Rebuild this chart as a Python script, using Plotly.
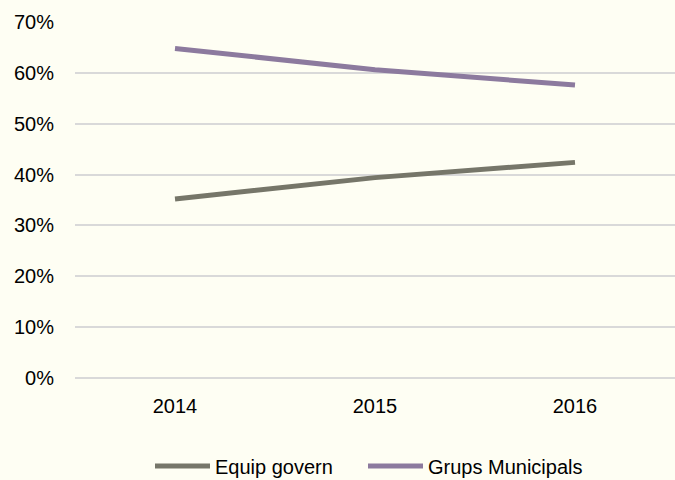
import plotly.graph_objects as go

years = ["2014", "2015", "2016"]
equip_govern = [0.352, 0.394, 0.424]
grups_municipals = [0.648, 0.606, 0.576]
y_ticks = [0, 0.1, 0.2, 0.3, 0.4, 0.5, 0.6, 0.7]

BG = "#FEFEF3"
fig = go.Figure()
fig.add_trace(go.Scatter(x=years, y=equip_govern, mode="lines", name="Equip govern",
                         line=dict(color="#767669", width=5), legend="legend"))
fig.add_trace(go.Scatter(x=years, y=grups_municipals, mode="lines", name="Grups Municipals",
                         line=dict(color="#8C7A9E", width=5), legend="legend2"))

leg_common = dict(orientation="h", xanchor="left", xref="container",
                  y=0.029, yanchor="middle", yref="container",
                  font=dict(size=20), bgcolor="rgba(0,0,0,0)", itemwidth=55)

fig.update_layout(
    width=675, height=480,
    paper_bgcolor=BG, plot_bgcolor=BG,
    margin=dict(l=75, r=0, t=22, b=102),
    font=dict(family="Liberation Sans, Arial, sans-serif", size=20, color="#000000"),
    showlegend=True,
    legend=dict(x=150 / 675, **leg_common),
    legend2=dict(x=363 / 675, **leg_common),
    xaxis=dict(type="category", showgrid=False, zeroline=False, showline=False,
               ticks="", ticklabelstandoff=14, range=[-0.5, 2.5]),
    yaxis=dict(range=[0, 0.7], tickvals=y_ticks, tickformat=".0%",
               showgrid=True, gridcolor="#D9D9D9", gridwidth=2,
               zeroline=True, zerolinecolor="#D9D9D9", zerolinewidth=2,
               showline=False, ticks="", ticklabelstandoff=20),
)
fig.write_html("out.html", config={"displayModeBar": False},
               post_script="document.body.style.margin='0px';document.body.style.overflow='hidden';")
